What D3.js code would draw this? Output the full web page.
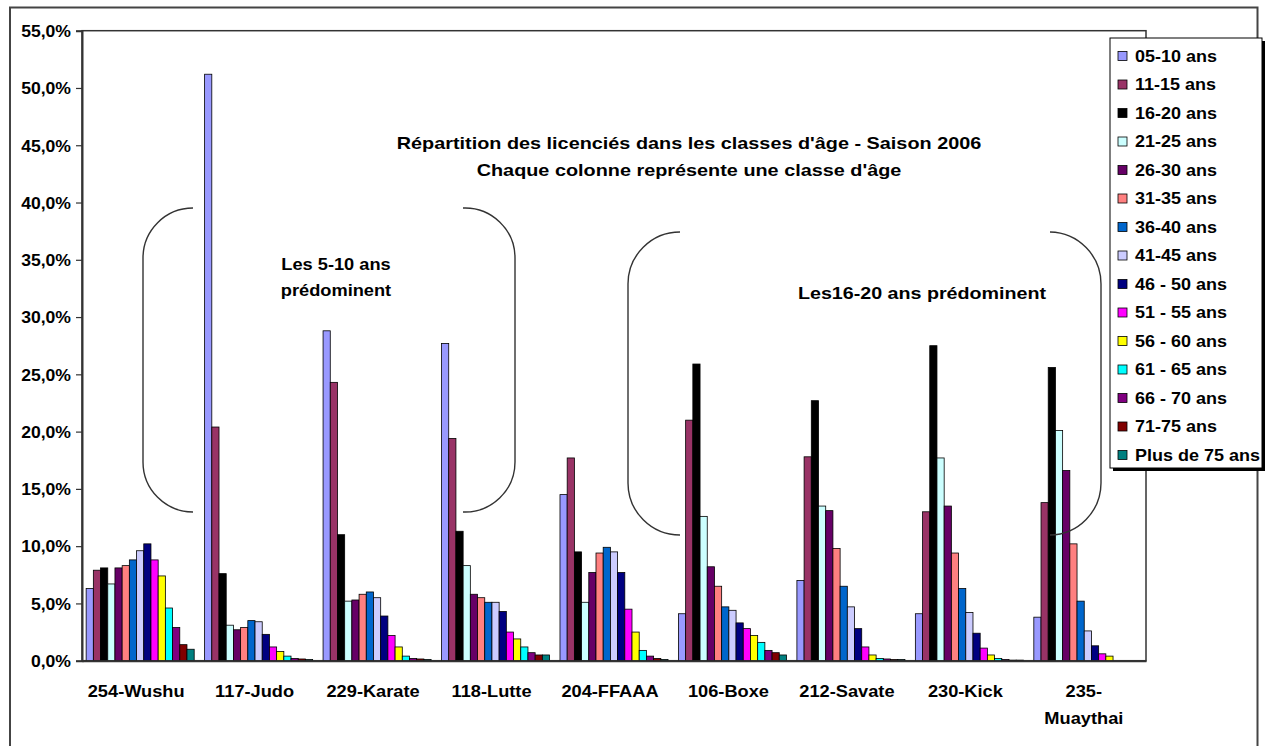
<!DOCTYPE html>
<html>
<head>
<meta charset="utf-8">
<script src="https://cdn.jsdelivr.net/npm/d3@7"></script>
<style>
  html, body { margin: 0; padding: 0; background: #fff; }
  svg { display: block; }
  text { font-family: "Liberation Sans", Arial, sans-serif; font-weight: bold; fill: #000; }
</style>
</head>
<body>
<svg id="chart" width="1269" height="746"></svg>
<script>
// ---------------- DATA ----------------
const categories = ["254-Wushu", "117-Judo", "229-Karate", "118-Lutte", "204-FFAAA",
                    "106-Boxe", "212-Savate", "230-Kick", "235-Muaythai"];
const ageClasses = ["05-10 ans", "11-15 ans", "16-20 ans", "21-25 ans", "26-30 ans",
                    "31-35 ans", "36-40 ans", "41-45 ans", "46 - 50 ans", "51 - 55 ans",
                    "56 - 60 ans", "61 - 65 ans", "66 - 70 ans", "71-75 ans", "Plus de 75 ans"];
const seriesColors = ["#9999FF", "#993366", "#000000", "#CCFFFF", "#660066",
                      "#FF8080", "#0066CC", "#CCCCFF", "#000080", "#FF00FF",
                      "#FFFF00", "#00FFFF", "#800080", "#800000", "#008080"];
// percentages per sport, one value per age class (in the order of ageClasses)
const wushu    = [6.3, 7.9, 8.1, 6.7, 8.1, 8.3, 8.8, 9.6, 10.2, 8.8, 7.4, 4.6, 2.9, 1.4, 1.0];
const judo     = [51.2, 20.4, 7.6, 3.1, 2.7, 2.9, 3.5, 3.4, 2.3, 1.2, 0.8, 0.4, 0.2, 0.15, 0.1];
const karate   = [28.8, 24.3, 11.0, 5.2, 5.3, 5.8, 6.0, 5.5, 3.9, 2.2, 1.2, 0.4, 0.2, 0.15, 0.1];
const lutte    = [27.7, 19.4, 11.3, 8.3, 5.8, 5.5, 5.1, 5.1, 4.3, 2.5, 1.9, 1.2, 0.7, 0.5, 0.5];
const ffaaa    = [14.5, 17.7, 9.5, 5.1, 7.7, 9.4, 9.9, 9.5, 7.7, 4.5, 2.5, 0.9, 0.4, 0.2, 0.1];
const boxe     = [4.1, 21.0, 25.9, 12.6, 8.2, 6.5, 4.7, 4.4, 3.3, 2.8, 2.2, 1.6, 0.9, 0.7, 0.5];
const savate   = [7.0, 17.8, 22.7, 13.5, 13.1, 9.8, 6.5, 4.7, 2.8, 1.2, 0.5, 0.2, 0.15, 0.1, 0.1];
const kick     = [4.1, 13.0, 27.5, 17.7, 13.5, 9.4, 6.3, 4.2, 2.4, 1.1, 0.5, 0.2, 0.1, 0.05, 0.05];
const muaythai = [3.8, 13.8, 25.6, 20.1, 16.6, 10.2, 5.2, 2.6, 1.3, 0.6, 0.4, 0, 0, 0, 0];
const sportValues = [wushu, judo, karate, lutte, ffaaa, boxe, savate, kick, muaythai];
const yTicks = [0, 5, 10, 15, 20, 25, 30, 35, 40, 45, 50, 55];
const titleLines = ["Répartition des licenciés dans les classes d'âge - Saison 2006",
                    "Chaque colonne représente une classe d'âge"];
const note1Lines = ["Les 5-10 ans", "prédominent"];
const note2Lines = ["Les16-20 ans prédominent"];

// ---------------- LAYOUT ----------------
const svg = d3.select("#chart");
const plot = { left: 82, top: 30.7, right: 1146, bottom: 660.7 };
const FS = 16;

function label(g, x, y, str, anchor, size, sx) {
  return g.append("text")
    .attr("transform", `translate(${x},${y}) scale(${sx},1)`)
    .attr("text-anchor", anchor || "middle")
    .attr("dy", "0.36em")
    .style("font-size", (size || FS) + "px")
    .text(str);
}

// outer chart border
svg.append("rect")
  .attr("x", 10).attr("y", 7.5).attr("width", 1247.5).attr("height", 760)
  .attr("fill", "#fff").attr("stroke", "#444").attr("stroke-width", 2);

// scales
const x0 = d3.scaleBand().domain(categories)
  .range([plot.left, plot.right]).paddingInner(0.088).paddingOuter(0.035);
const x1 = d3.scaleBand().domain(ageClasses).range([0, x0.bandwidth()]).padding(0);
const y = d3.scaleLinear().domain([0, 55]).range([plot.bottom, plot.top]);

// plot area
svg.append("rect")
  .attr("x", plot.left).attr("y", plot.top)
  .attr("width", plot.right - plot.left).attr("height", plot.bottom - plot.top)
  .attr("fill", "#fff").attr("stroke", "#333").attr("stroke-width", 1.5);

// y axis
const yAxis = d3.axisLeft(y).tickValues(yTicks).tickSize(6).tickPadding(5)
  .tickFormat(d => d3.format(".1f")(d).replace(".", ",") + "%");
const gy = svg.append("g").attr("transform", `translate(${plot.left},0)`).call(yAxis);
gy.select(".domain").attr("stroke", "#333").attr("stroke-width", 2);
gy.selectAll(".tick line").attr("stroke", "#333").attr("stroke-width", 1.2);
gy.selectAll(".tick text").remove();
gy.selectAll(".tick").each(function(d) {
  label(d3.select(this), -11, 0, d3.format(".1f")(d).replace(".", ",") + "%", "end", FS, 1.1);
});

// bars
const groups = svg.append("g").selectAll("g.grp")
  .data(categories.map((c, i) => ({ cat: c, vals: sportValues[i] })))
  .join("g").attr("class", "grp")
  .attr("transform", d => `translate(${x0(d.cat)},0)`);
groups.selectAll("rect")
  .data(d => d.vals.map((v, j) => ({ age: ageClasses[j], v, color: seriesColors[j] })))
  .join("rect")
  .attr("x", d => x1(d.age))
  .attr("y", d => y(d.v))
  .attr("width", x1.bandwidth())
  .attr("height", d => y(0) - y(d.v))
  .attr("fill", d => d.color)
  .attr("stroke", "#000").attr("stroke-width", 0.8);

// x axis line
const xAxis = d3.axisBottom(x0).tickSize(0).tickFormat("");
const gx = svg.append("g").attr("transform", `translate(0,${plot.bottom})`).call(xAxis);
gx.select(".domain").attr("stroke", "#333").attr("stroke-width", 2);

// category labels (wrap long ones after the hyphen, like the original)
categories.forEach(c => {
  const cx = x0(c) + x0.bandwidth() / 2;
  const lines = c.length > 10 ? [c.slice(0, c.indexOf("-") + 1), c.slice(c.indexOf("-") + 1)] : [c];
  lines.forEach((ln, k) => label(svg, cx - 4, 691 + k * 27, ln, "middle", FS, 1.14));
});

// title & notes
titleLines.forEach((t, k) => label(svg, 689, 143 + k * 27, t, "middle", FS, 1.24));
note1Lines.forEach((t, k) => label(svg, 336, 264 + k * 26, t, "middle", FS, 1.14));
note2Lines.forEach((t, k) => label(svg, 922, 293 + k * 26, t, "middle", FS, 1.23));

// brackets
function bracket(xOuter, xInner, yTop, yBot, r) {
  const dir = xInner > xOuter ? 1 : -1; // 1 = opening "(" ; -1 = closing ")"
  const sweep = dir === 1 ? 0 : 1;
  return `M${xInner},${yTop} A${r},${r} 0 0 ${sweep} ${xOuter},${yTop + r} ` +
         `L${xOuter},${yBot - r} A${r},${r} 0 0 ${sweep} ${xInner},${yBot}`;
}
const br = svg.append("g").attr("fill", "none").attr("stroke", "#333").attr("stroke-width", 1.4);
br.append("path").attr("d", bracket(143, 193, 208, 512, 50));
br.append("path").attr("d", bracket(515, 463, 208, 512, 50));
br.append("path").attr("d", bracket(628, 680, 232, 535, 52));
br.append("path").attr("d", bracket(1101, 1050, 232, 535, 52));

// legend
const lg = svg.append("g");
lg.append("rect").attr("x", 1113).attr("y", 41).attr("width", 152).attr("height", 430).attr("fill", "#000");
lg.append("rect").attr("x", 1110).attr("y", 38).attr("width", 152).attr("height", 430)
  .attr("fill", "#fff").attr("stroke", "#000").attr("stroke-width", 1);
const rows = lg.selectAll("g.row").data(ageClasses).join("g").attr("class", "row")
  .attr("transform", (d, i) => `translate(1118,${56 + i * 28.5})`);
rows.append("rect").attr("x", 0).attr("y", -4.5).attr("width", 9).attr("height", 9)
  .attr("fill", (d, i) => seriesColors[i]).attr("stroke", "#000").attr("stroke-width", 0.8);
rows.each(function(d) { label(d3.select(this), 17, 0, d, "start", FS, 1.125); });
</script>
</body>
</html>
